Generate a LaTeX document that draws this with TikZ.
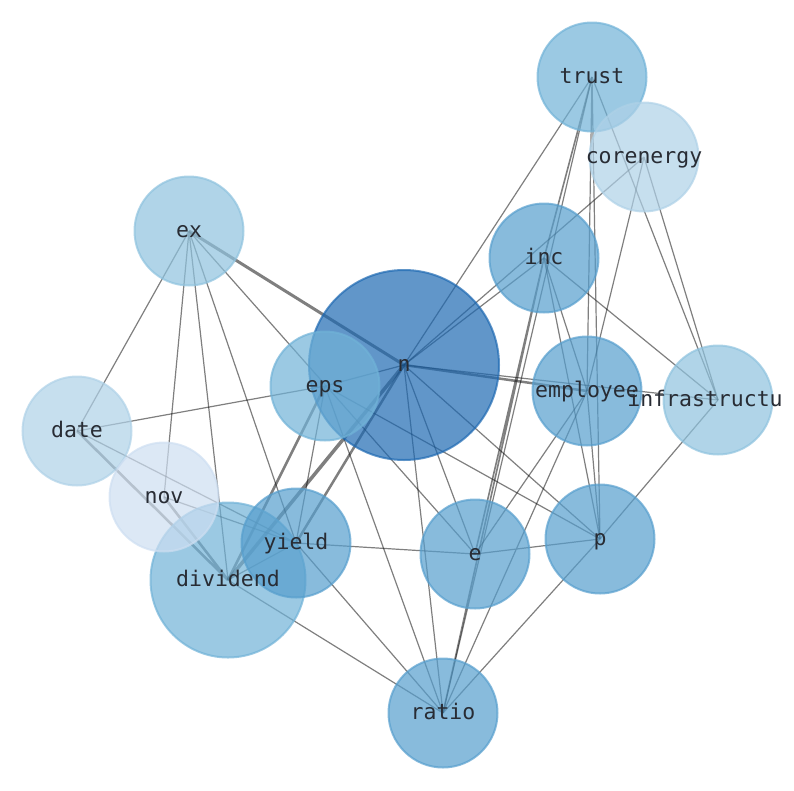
\documentclass[tikz,border=0pt]{standalone}
\usepackage{fontspec}
\setmonofont{DejaVu Sans Mono}
\usepackage{tikz}
\usetikzlibrary{backgrounds}
\definecolor{blA}{RGB}{30,105,178}
\definecolor{blB}{RGB}{112,178,215}
\definecolor{blC}{RGB}{86,158,205}
\definecolor{blD}{RGB}{142,194,222}
\definecolor{blE}{RGB}{174,209,231}
\definecolor{blF}{RGB}{205,222,241}
\definecolor{wordcol}{RGB}{40,44,52}
\tikzset{vertex/.style={circle,inner sep=0pt,minimum size=109pt,line width=2pt,opacity=.7,draw=#1,fill=#1}}
\tikzset{word/.style={font=\ttfamily\fontsize{21.5}{22}\selectfont,text=wordcol,inner sep=0pt,text height=17pt,text depth=5pt}}
\tikzset{link/.style={draw=black,opacity=.5,line width=1.2pt},heavy/.style={link,line width=#1}}

\begin{document}
\begin{tikzpicture}[x=1pt,y=-1pt]
                \useasboundingbox (0,0) rectangle (794,790);
                \node[vertex=blA,minimum size=190pt] (n) at (404,365) {};
                \node[vertex=blB] (trust) at (592,77) {};
                \node[vertex=blB,minimum size=155pt] (dividend) at (228,580) {};
                \node[vertex=blC] (inc) at (544,258) {};
                \node[vertex=blC] (employee) at (587,391) {};
                \node[vertex=blC] (e) at (475,554) {};
                \node[vertex=blC] (p) at (600,539) {};
                \node[vertex=blC] (ratio) at (443,713) {};
                \node[vertex=blC] (yield) at (296,543) {};
                \node[vertex=blB] (eps) at (325,386) {};
                \node[vertex=blD] (ex) at (189,231) {};
                \node[vertex=blD] (infra) at (718,400) {};
                \node[vertex=blE] (corenergy) at (644,157) {};
                \node[vertex=blE] (date) at (77,431) {};
                \node[vertex=blF] (nov) at (164,497) {};
                \begin{scope}[on background layer]
                    \draw[link] (trust.center) -- (n.center) (trust.center) -- (employee.center) (trust.center) -- (p.center)
                        (trust.center) -- (infra.center) (trust.center) -- (ratio.center);
                    \draw[heavy=1.6pt] (trust.center) -- (inc.center) (inc.center) -- (e.center) (inc.center) -- (ratio.center);
                    \draw[link] (corenergy.center) -- (n.center) (corenergy.center) -- (employee.center) (corenergy.center) -- (infra.center);
                    \draw[link] (inc.center) -- (n.center) (inc.center) -- (employee.center) (inc.center) -- (p.center) (inc.center) -- (infra.center);
                    \draw[link] (n.center) -- (eps.center) (n.center) -- (e.center) (n.center) -- (p.center) (n.center) -- (ratio.center)
                        (n.center) -- (infra.center);
                    \draw[link] (eps.center) -- (yield.center) (eps.center) -- (ratio.center) (eps.center) -- (p.center) (date.center) -- (eps.center);
                    \draw[link] (ex.center) -- (date.center) (ex.center) -- (nov.center) (ex.center) -- (dividend.center)
                        (ex.center) -- (yield.center) (ex.center) -- (e.center);
                    \draw[link] (date.center) -- (yield.center) (nov.center) -- (yield.center) (yield.center) -- (e.center)
                        (yield.center) -- (ratio.center) (yield.center) -- (dividend.center) (dividend.center) -- (ratio.center);
                    \draw[link] (employee.center) -- (e.center) (employee.center) -- (ratio.center) (employee.center) -- (p.center)
                        (e.center) -- (p.center) (p.center) -- (ratio.center) (infra.center) -- (p.center);
                    \draw[heavy=3pt] (ex.center) -- (n.center);
                    \draw[heavy=2.5pt] (n.center) -- (employee.center) (n.center) -- (yield.center) (eps.center) -- (dividend.center);
                    \draw[heavy=3.5pt] (n.center) -- (dividend.center);
                    \draw[heavy=2.5pt] (date.center) -- (dividend.center) (nov.center) -- (dividend.center);
                \end{scope}
                \node[word] (nW) at (n.center) {n};
                \node[word] (trustW) at (trust.center) {trust};
                \node[word] (dividendW) at (dividend.center) {dividend};
                \node[word] (incW) at (inc.center) {inc};
                \node[word] (employeeW) at (employee.center) {employee};
                \node[word] (eW) at (e.center) {e};
                \node[word] (pW) at (p.center) {p};
                \node[word] (ratioW) at (ratio.center) {ratio};
                \node[word] (yieldW) at (yield.center) {yield};
                \node[word] (epsW) at (eps.center) {eps};
                \node[word] (exW) at (ex.center) {ex};
                \node[word] (infraW) at ([xshift=-13pt]infra.center) {infrastructu};
                \node[word] (corenergyW) at (corenergy.center) {corenergy};
                \node[word] (dateW) at (date.center) {date};
                \node[word] (novW) at (nov.center) {nov};
            \end{tikzpicture}
\end{document}
